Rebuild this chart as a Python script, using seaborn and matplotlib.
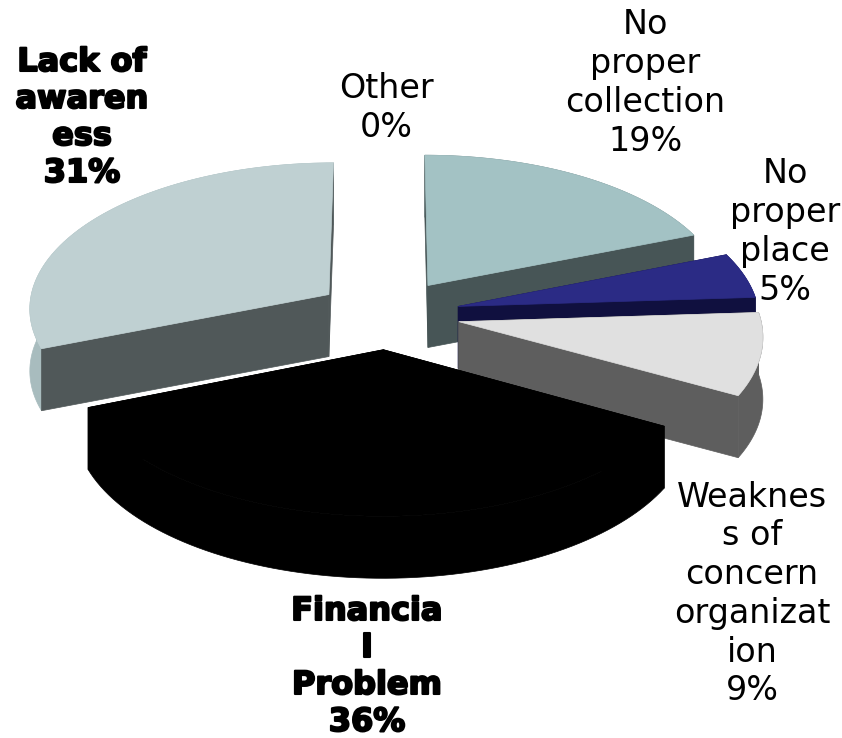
import numpy as np
import matplotlib
matplotlib.use("Agg")
import matplotlib.pyplot as plt
import matplotlib.patheffects as pe
import seaborn as sns

# values, clockwise from 12 o'clock
categories = ["No\nproper\ncollection", "No\nproper\nplace",
              "Weaknes\ns of\nconcern\norganizat\nion", "Financia\nl\nProblem",
              "Lack of\nawaren\ness", "Other"]
percent = [19, 5, 9, 36, 31, 0]

top_colors = ["#A3C2C4", "#2B2B85", "#E0E0E0", "#000000", "#BFD0D2", "#8FA5B5"]
wall_colors = ["#475556", "#10103F", "#5E5E5E", "#000000", "#505859", "#444444"]
rim_colors = ["#6F8587", "#1E1E66", "#5E5E5E", "#000000", "#A8BCBE", "#444444"]
draw_order = [0, 4, 1, 2, 3]

label_pos = [(645, 83), (785, 232), (752, 594), (367, 667), (82, 118), (386, 108)]
bold_labels = [3, 4]

# pie geometry in pixels
CX, CY = 388, 314
RX, RY = 301, 146
EXPLODE = 0.24
PERSP = 0.085
DEPTH = 62


def project(u, v):
    s = 1 / (1 - PERSP * v)
    return CX + RX * u * s, CY + RY * v * s


def slice_outline(start, end):
    mid = (start + end) / 2
    du, dv = EXPLODE * np.sin(mid), -EXPLODE * np.cos(mid)
    theta = np.linspace(start, end, 80)
    rim_x, rim_y = project(du + np.sin(theta), dv - np.cos(theta))
    apex_x, apex_y = project(du, dv)
    return apex_x, apex_y, rim_x, rim_y


def draw_slice(ax, start, end, i):
    apex_x, apex_y, rim_x, rim_y = slice_outline(start, end)
    # outer wall
    ax.fill(np.r_[rim_x, rim_x[::-1]], np.r_[rim_y, rim_y[::-1] + DEPTH],
            color=rim_colors[i], lw=0.5)
    # cut walls
    for k in (0, -1):
        ax.fill([apex_x, rim_x[k], rim_x[k], apex_x],
                [apex_y, rim_y[k], rim_y[k] + DEPTH, apex_y + DEPTH],
                color=wall_colors[i], lw=0.5)
    # top face
    ax.fill(np.r_[apex_x, rim_x], np.r_[apex_y, rim_y], color=top_colors[i], lw=0.5)


sns.set_theme(style="white")
fig, ax = plt.subplots(figsize=(8.42, 7.38), dpi=100)
fig.subplots_adjust(0, 0, 1, 1)
ax.set_xlim(0, 842)
ax.set_ylim(738, 0)
ax.axis("off")

edges = np.r_[0, np.cumsum(percent)] / 100 * 2 * np.pi
for i in draw_order:
    draw_slice(ax, edges[i], edges[i + 1], i)

for i, name in enumerate(categories):
    is_bold = i in bold_labels
    t = ax.text(label_pos[i][0], label_pos[i][1], f"{name}\n{percent[i]}%",
                ha="center", va="center", fontsize=23 if is_bold else 24, color="black",
                fontweight="bold" if is_bold else "normal",
                family="DejaVu Sans", linespacing=1.25 if is_bold else 1.22)
    if is_bold:
        t.set_path_effects([pe.withStroke(linewidth=1.5, foreground="black")])

fig.savefig("out.png", dpi=100)
